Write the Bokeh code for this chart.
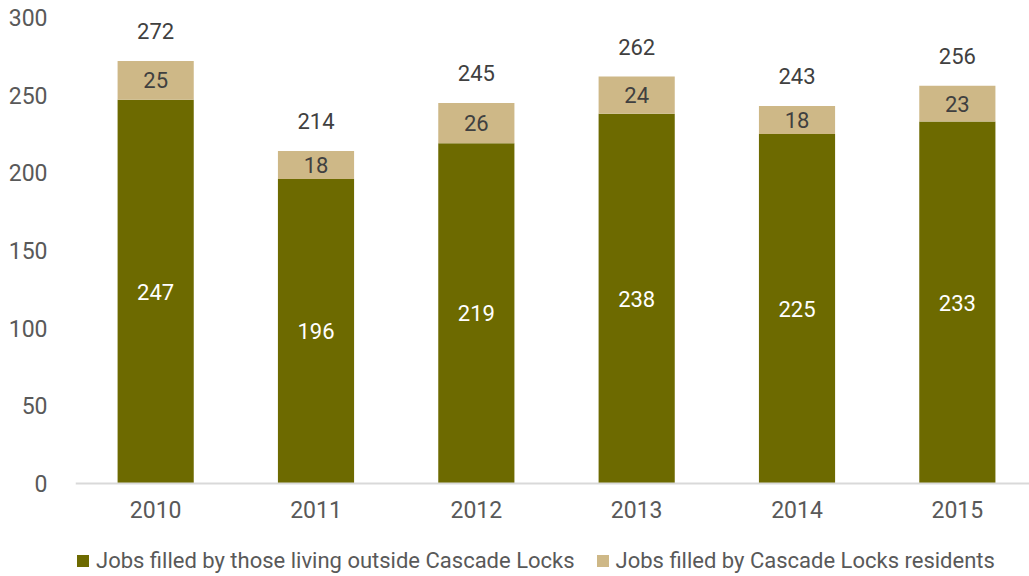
from bokeh.plotting import figure
from bokeh.models import ColumnDataSource, Range1d, Legend, LegendItem, FixedTicker, LabelSet
from bokeh.core.properties import value
from bokeh.embed import file_html
from bokeh.resources import INLINE

years = ["2010", "2011", "2012", "2013", "2014", "2015"]
outside = [247, 196, 219, 238, 225, 233]
residents = [25, 18, 26, 24, 18, 23]
totals = [272, 214, 245, 262, 243, 256]
y_ticks = [0, 50, 100, 150, 200, 250, 300]

OLIVE = "#6D6A00"
TAN = "#CEB887"
FONT = "Roboto"

xs = list(range(len(years)))
src = ColumnDataSource(dict(
    x=xs, outside=outside, residents=residents, totals=totals,
    out_mid=[o / 2 for o in outside],
    res_mid=[o + r / 2 for o, r in zip(outside, residents)],
    out_lbl=[str(v) for v in outside],
    res_lbl=[str(v) for v in residents],
    tot_lbl=[str(v) for v in totals],
))

p = figure(width=1029, height=576, output_backend="svg", toolbar_location=None,
           x_range=Range1d(-0.5, 5.45), y_range=Range1d(-59.9, 300),
           min_border_left=75, min_border_right=0, min_border_top=17, min_border_bottom=0)
p.outline_line_color = None
p.xgrid.visible = False
p.ygrid.visible = False

r = p.vbar_stack(["outside", "residents"], x="x", width=0.475, source=src,
                 color=[OLIVE, TAN], line_color=None)

p.add_layout(LabelSet(x="x", y="out_mid", text="out_lbl", source=src, text_color="white",
                      text_align="center", text_baseline="middle", text_font_size="22px",
                      text_font=value(FONT)))
p.add_layout(LabelSet(x="x", y="res_mid", text="res_lbl", source=src, text_color="#404040",
                      text_align="center", text_baseline="middle", text_font_size="22px",
                      text_font=value(FONT)))
p.add_layout(LabelSet(x="x", y="totals", text="tot_lbl", source=src, text_color="#404040",
                      text_align="center", text_baseline="middle", text_font_size="22px",
                      text_font=value(FONT), y_offset=30))

p.xaxis.fixed_location = 0
p.xaxis.ticker = FixedTicker(ticks=xs)
p.xaxis.major_label_overrides = {i: y for i, y in enumerate(years)}
p.xaxis.axis_line_color = "#D9D9D9"
p.xaxis.axis_line_width = 2
p.xaxis.major_tick_line_color = None
p.xaxis.minor_tick_line_color = None
p.xaxis.major_label_standoff = 12
p.xaxis.major_label_text_font_size = "23px"
p.xaxis.major_label_text_color = "#595959"
p.xaxis.major_label_text_font = FONT

p.yaxis.ticker = FixedTicker(ticks=y_ticks)
p.yaxis.axis_line_color = None
p.yaxis.major_tick_line_color = None
p.yaxis.minor_tick_line_color = None
p.yaxis.major_label_standoff = 22
p.yaxis.major_label_text_font_size = "23px"
p.yaxis.major_label_text_color = "#595959"
p.yaxis.major_label_text_font = FONT

legend = Legend(items=[
    LegendItem(label="Jobs filled by those living outside Cascade Locks", renderers=[r[0]]),
    LegendItem(label="Jobs filled by Cascade Locks residents", renderers=[r[1]]),
], orientation="horizontal", location=(0, 3))
legend.label_text_font_size = "22px"
legend.label_text_color = "#595959"
legend.label_text_font = FONT
legend.glyph_width = 15
legend.glyph_height = 15
legend.label_standoff = 6
legend.spacing = 20
legend.border_line_color = None
legend.background_fill_alpha = 0
legend.padding = 0
legend.margin = 0
p.add_layout(legend, "center")

open("out.html", "w").write(file_html(p, INLINE))
